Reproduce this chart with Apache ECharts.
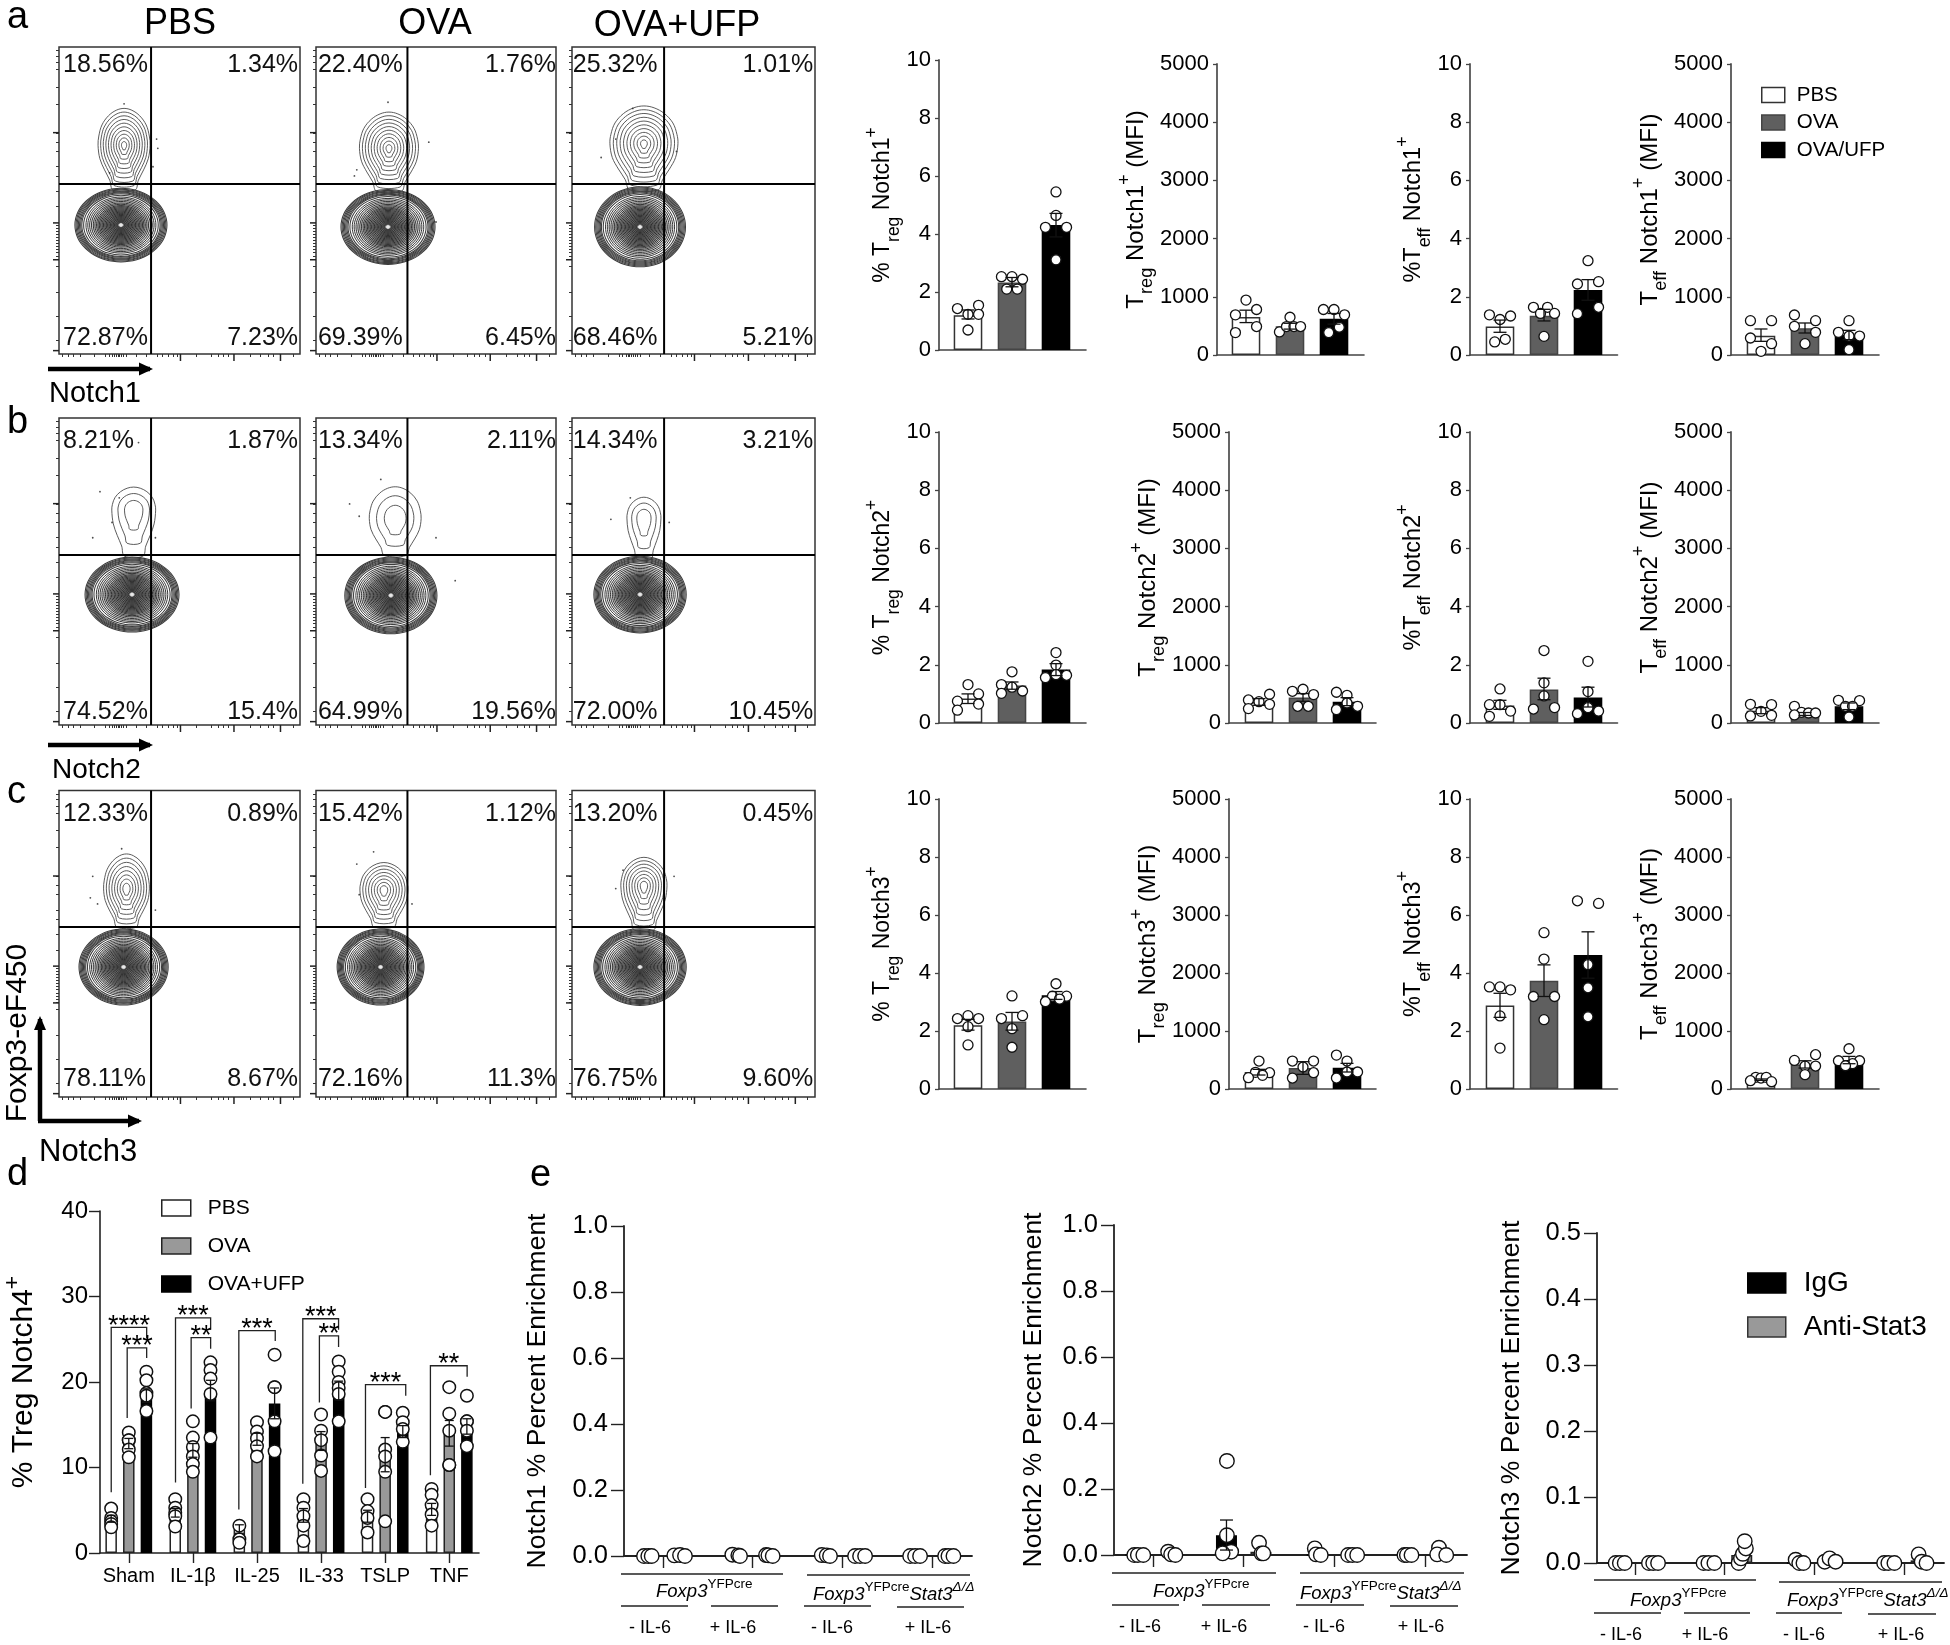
<!DOCTYPE html>
<html><head><meta charset="utf-8"><style>html,body{margin:0;background:#fff}#c{width:1950px;height:1645px}</style>
<script src="https://cdn.jsdelivr.net/npm/echarts@6/dist/echarts.min.js"></script></head>
<body><div id="c"></div>
<script>
const FONT='Liberation Sans';
/* ---------- a-c flow panels: quadrant percentages ---------- */
const pctNotch1=[['18.56%','1.34%','72.87%','7.23%'],['22.40%','1.76%','69.39%','6.45%'],['25.32%','1.01%','68.46%','5.21%']];
const pctNotch2=[['8.21%','1.87%','74.52%','15.4%'],['13.34%','2.11%','64.99%','19.56%'],['14.34%','3.21%','72.00%','10.45%']];
const pctNotch3=[['12.33%','0.89%','78.11%','8.67%'],['15.42%','1.12%','72.16%','11.3%'],['13.20%','0.45%','76.75%','9.60%']];
/* contour summaries, axis units 0-100 */
const upperNotch1=[[27,68,10.8,12,14.6],[30.4,67,12.3,11.8,14],[29.6,68.5,14,12.3,15]];
const lowerNotch1=[[25.7,42,19.1,12],[30,41.4,19.6,12.2],[28,41.4,18.7,13]];
const upperNotch2=[[31,70,9.1,7.5,15],[33,67.2,10.8,10.4,12],[29.6,67.4,7,6.8,13.4]];
const lowerNotch2=[[30.3,42.5,19.5,12.2],[31.2,42.2,19.2,12.5],[28,42.5,19,12.5]];
const upperNotch3=[[28,67.9,9.5,11.4,12.5],[28.3,67.5,10,9,12],[29.6,68.9,9.5,9.3,14.4]];
const lowerNotch3=[[26.8,42.4,18.5,12.4],[26.9,42.4,18.1,12.4],[28,42.4,19,12.5]];
const upperRings=[[1,.9,.8,.7,.6,.5,.4,.3,.2,.1],[1,.72,.42],[1,.88,.76,.64,.52,.4,.28,.16]];
const lowerRings=[1,.975,.95,.925,.9,.875,.85,.81,.76,.72,.68,.64,.6,.565,.53,.5,.47,.44,.41,.38,.35,.32,.29,.26,.23,.2,.17,.14,.11,.08,.04];
const flaskShape=[[0,1],[.3,.95],[.6,.8],[.85,.55],[.97,.25],[1,0],[.93,-.3],[.75,-.55],[.55,-.78],[.42,-1]];
const flowDots=[[[27,81.5],[40.5,70],[41,67],[39,61],[21,59]],[[30,82],[47,69],[17,60],[16,58],[50,43]],[[12,64],[18,70],[25,80],[43,66]],
 [[33,92],[17,76],[25,74],[14,61],[22,66],[40,61]],[[27,80],[14,72],[18,68],[50,61],[58,47]],[[24,74],[16,67],[40,66]],
 [[26,81],[14,72],[16,63],[13,65],[40,61]],[[24,80],[17,76],[18,66],[40,63]],[[18,68],[42,72],[21,74]]];
const flowXMinor=[.015,.037,.059,.089,.148,.193,.207,.222,.23,.237,.245,.252,.26,.267,.281,.319,.363,.407,.43,.452,.474,.489,.57,.63,.659,.681,.704,.793,.837,.867,.889,.97].map(v=>v*100);
const flowXMajor=[.504,.726,.919].map(v=>v*100);
const flowYMinor=[.988,.97,.95,.927,.87,.815,.72,.69,.66,.61,.58,.53,.48,.42,.41,.4,.39,.38,.37,.36,.35,.34,.33,.32,.31,.285,.2,.122,.046].map(v=>v*100);
const flowYMajor=[.721,.427,.307,.011].map(v=>v*100);
/* ---------- a-c bar panels ---------- */
const aTregPctBars=[1.2,2.33,4.31], aTregPctErr=[[1.07,1.38],[2.18,2.5],[3.9,4.71]];
const aTregPctPts=[[-.24,1.43],[.24,1.54],[0,1.23],[.24,1.23],[0,.69],[.76,2.53],[1,2.53],[1.24,2.44],[.88,2.1],[1.12,2.1],[2,5.45],[2,4.64],[1.76,4.23],[2.24,4.23],[2,3.11]];
const aTregMfiBars=[655,494,621], aTregMfiErr=[[557,770],[445,545],[530,713]];
const aTregMfiPts=[[0,943],[.24,782],[-.24,690],[.24,489],[-.24,385],[1,649],[.76,397],[.92,489],[1.09,489],[1.24,489],[1.76,782],[2,782],[2.24,690],[2.12,477],[1.88,385]];
const aTeffPctBars=[.98,1.35,2.23], aTeffPctErr=[[.78,1.2],[1.17,1.57],[1.88,2.59]];
const aTeffPctPts=[[-.24,1.38],[.24,1.34],[0,1.22],[.12,.54],[-.12,.45],[.76,1.64],[1.08,1.64],[.92,1.43],[1.24,1.43],[1,.64],[2,3.24],[1.76,2.44],[2.24,2.52],[2.24,1.64],[1.76,1.42]];
const aTeffMfiBars=[332,458,344], aTeffMfiErr=[[235,447],[378,550],[264,424]];
const aTeffMfiPts=[[-.24,590],[.24,590],[-.24,292],[.24,195],[0,63],[.76,687],[1.24,590],[.76,493],[1.24,389],[1,195],[2,590],[1.76,389],[2.24,326],[2,326],[2,92]];
const bTregPctBars=[.84,1.29,1.84], bTregPctErr=[[.67,1.0],[1.16,1.41],[1.63,2.04]];
const bTregPctPts=[[0,1.32],[.24,1.0],[-.24,.75],[.24,.65],[-.24,.44],[1,1.76],[.76,1.32],[1,1.23],[1.24,1.1],[.76,1.02],[2,2.42],[2,1.99],[2,1.66],[2.24,1.64],[1.76,1.56]];
const bTregMfiBars=[362,436,367], bTregMfiErr=[[304,419],[373,505],[298,436]];
const bTregMfiPts=[[.24,494],[-.24,396],[0,367],[.24,321],[-.24,247],[1,580],[.76,545],[1.24,488],[.88,287],[1.12,287],[1.76,528],[2,476],[2,344],[2.24,287],[1.76,230]];
const bTeffPctBars=[.6,1.15,.88], bTeffPctErr=[[.47,.78],[.8,1.54],[.55,1.23]];
const bTeffPctPts=[[0,1.17],[-.24,.63],[0,.63],[.24,.41],[-.24,.23],[1,2.49],[1,1.38],[1,.93],[1.24,.53],[.76,.48],[2,2.12],[2,1.08],[2,.53],[2.24,.41],[1.76,.32]];
const bTeffMfiBars=[212,155,287], bTeffMfiErr=[[160,264],[130,180],[230,344]];
const bTeffMfiPts=[[-.24,321],[.24,316],[0,201],[-.24,121],[.24,132],[.76,287],[.92,184],[1.08,172],[1.24,172],[.76,138],[1.76,390],[2.24,385],[1.92,287],[2.08,287],[2,103]];
const cTregPctBars=[2.2,2.33,3.23], cTregPctErr=[[2.03,2.4],[2.03,2.64],[3.09,3.36]];
const cTregPctPts=[[0,2.53],[-.24,2.43],[.24,2.43],[0,2.15],[0,1.52],[1,3.21],[1.24,2.53],[.76,2.43],[1,2.08],[1,1.44],[2,3.63],[1.92,3.2],[2.24,3.2],[2.08,3.1],[1.76,3.01]];
const cTregMfiBars=[293,362,367], cTregMfiErr=[[241,339],[253,471],[293,442]];
const cTregMfiPts=[[0,482],[-.08,287],[.24,281],[.08,235],[-.24,195],[.76,482],[1.24,482],[1,379],[1.24,281],[.76,189],[1.76,585],[2,482],[2,293],[2.24,293],[1.76,189]];
const cTeffPctBars=[2.88,3.73,4.62], cTeffPctErr=[[2.47,3.3],[3.19,4.28],[3.82,5.42]];
const cTeffPctPts=[[-.24,3.52],[0,3.52],[.24,3.42],[0,2.52],[0,1.41],[1,5.39],[1,4.48],[.76,3.19],[1.24,3.19],[1,2.39],[1.76,6.49],[2.24,6.4],[2,4.29],[2,3.49],[2,2.49]];
const cTeffMfiBars=[161,424,499], cTeffMfiErr=[[149,173],[361,487],[436,562]];
const cTeffMfiPts=[[-.12,201],[0,189],[.12,201],[-.24,143],[.24,126],[1.24,591],[.76,493],[1,396],[1.24,396],[1,247],[2,694],[1.76,487],[2.24,487],[2.08,436],[1.92,401]];
/* ---------- d ---------- */
const dCats=['Sham','IL-1β','IL-25','IL-33','TSLP','TNF'];
const dPbsBars=[4,4.7,2.8,4.4,4.3,5.1], dOvaBars=[12.8,12,13.3,13.1,11.5,14], dUfpBars=[18.4,19,17.5,19,14.2,14.8];
const dPbsErr=[.4,.5,.5,.8,.7,.7], dOvaErr=[.6,.8,.7,1.1,2,1.5], dUfpErr=[.8,1.2,1.8,1.1,.7,.9];
const dPbsPts=[[5.2,4.1,3.7,3.4,3.0],[6.3,5.3,4.7,4.3,3.1],[3.2,1.6,1.2],[6.3,5.3,4.3,3.2,1.4],[6.3,4.9,4.1,2.4],[7.5,6.8,5.6,4.5,3.2]];
const dOvaPts=[[14.1,13.2,13.2,12.1,11.2],[15.4,13.5,12.4,11.3,10.4,9.5],[15.3,14.2,13.4,12.5,11.3],[16.2,14.3,13.2,11.4,9.6],[16.5,16.5,12.1,11.3,9.5,3.7],[19.4,16.3,14.3,10.3,10.3]];
const dUfpPts=[[21.2,20.2,18.7,18.4,16.6],[22.3,21.4,20.4,18.6,13.5],[23.2,19.4,19.4,15.4,11.9],[22.4,21.2,20,19.3,18.6,15.4],[16.4,15.3,14.5,13],[18.4,15.4,15.4,14.3,12.5]];
/* brackets: x1, x2, left foot, right foot, top, stars */
const dBrackets=[[-.274,.279,7.1,25.1,26.4,'****'],[-.025,.279,15.8,22.8,24,'***'],[.729,1.277,8.25,26.1,27.5,'***'],[.973,1.277,16.9,23.9,25.2,'**'],
 [1.717,2.285,5.1,24.8,26,'***'],[2.715,3.273,8.1,26.1,27.4,'***'],[2.974,3.273,17.6,24.1,25.4,'**'],[3.693,4.321,7.6,18.4,19.7,'***'],[4.706,5.279,9.1,20.6,21.9,'**']];
/* ---------- e ---------- */
const e1IgG=[0,0,0,0], e1Stat=[0,0,0,0], e2IgG=[0,.06,0,0], e2Stat=[0,.01,0,0], e3IgG=[0,0,0,0], e3Stat=[0,.012,.004,.004];
const e1Pts=[[-.212,0],[-.164,0],[-.126,0],[.126,.002],[.19,.003],[.245,0],[.773,.004],[.84,.002],[.859,0],[1.149,.003],[1.175,.002],[1.223,0],[1.77,.003],[1.825,.002],[1.862,0],[2.141,0],[2.197,0],[2.253,0],[2.755,0],[2.81,0],[2.866,0],[3.145,0],[3.182,0],[3.238,0]];
const e2Pts=[[-.207,0],[-.167,0],[-.107,0],[.167,.01],[.2,.002],[.247,0],[.815,.285],[.815,.06],[.862,.01],[.768,.005],[1.169,.037],[1.196,.005],[1.216,.005],[1.784,.02],[1.797,.002],[1.85,0],[2.151,0],[2.198,0],[2.251,0],[2.772,0],[2.799,0],[2.85,0],[3.153,.022],[3.133,.002],[3.233,0]];
const e3Pts=[[-.216,0],[-.169,0],[-.115,0],[.155,0],[.203,0],[.257,0],[.764,0],[.818,0],[.885,0],[1.155,0],[1.182,.007],[1.203,.014],[1.236,.022],[1.223,.033],[1.791,.005],[1.831,0],[1.878,0],[2.115,.002],[2.169,.007],[2.236,.002],[2.777,0],[2.824,0],[2.892,0],[3.162,.013],[3.196,.002],[3.25,0]];
const eTickVals=[0,1,2,3];
const e2ErrBars=[[.81,.015,.106]];

/* ---------- builders ---------- */
const grid=[],xAxis=[],yAxis=[],series=[],gfx=[];
function addGrid(l,r,t,b,x,y){grid.push({left:l,top:t,width:r-l,height:b-t,show:false,containLabel:false,...(x.g||{})});const i=grid.length-1;
 xAxis.push({gridIndex:i,type:'value',...x});yAxis.push({gridIndex:i,type:'value',...y});delete xAxis[i].g;return i;}
const LINE=(c,w)=>({lineStyle:{color:c,width:w}});
function barSeries(i,name,data,w,color,border){series.push({type:'bar',name,xAxisIndex:i,yAxisIndex:i,data,barWidth:w,barGap:'-100%',
 itemStyle:{color,borderColor:border,borderWidth:1.5},silent:true,animation:false});}
function errSeries(i,data,cap,lw){series.push({type:'custom',coordinateSystem:'cartesian2d',xAxisIndex:i,yAxisIndex:i,data,silent:true,encode:{x:0,y:[1,2]},z:4,
 renderItem(p,api){const x=api.value(0),a=api.coord([x,api.value(1)]),b=api.coord([x,api.value(2)]);
  const st={stroke:'#111',lineWidth:lw};return {type:'group',children:[
   {type:'line',shape:{x1:a[0],y1:a[1],x2:b[0],y2:b[1]},style:st},
   {type:'line',shape:{x1:a[0]-cap,y1:a[1],x2:a[0]+cap,y2:a[1]},style:st},
   {type:'line',shape:{x1:b[0]-cap,y1:b[1],x2:b[0]+cap,y2:b[1]},style:st}]};}});}
function ptSeries(i,data,size,lw){series.push({type:'scatter',xAxisIndex:i,yAxisIndex:i,data,symbolSize:size,silent:true,z:3,
 itemStyle:{color:'#fff',borderColor:'#111',borderWidth:lw,opacity:1}});}

const RICH=(fs)=>({m:{fontFamily:FONT,fontSize:fs,color:'#000',verticalAlign:'middle',padding:[8,0,8,0]},
 sub:{fontFamily:FONT,fontSize:fs*.76,color:'#000',verticalAlign:'bottom'},
 sup:{fontFamily:FONT,fontSize:fs*.76,color:'#000',verticalAlign:'top'}});

function barPanel(g,bars,err,pts,max,iv,name,gap,fs){
 const i=addGrid(g.axis,g.end,g.top,g.bottom,
  {min:(g.axis-g.c0)/g.step,max:(g.end-g.c0)/g.step,axisLine:{show:true,onZero:false,...LINE('#444',1.6)},axisTick:{show:false},axisLabel:{show:false},splitLine:{show:false}},
  {min:0,max,interval:iv,axisLine:{show:true,onZero:false,...LINE('#555',1.8)},axisTick:{show:true,length:4,...LINE('#444',1.3)},
   axisLabel:{fontFamily:FONT,fontSize:22,color:'#000',margin:8,formatter:v=>String(v)},splitLine:{show:false},
   name,nameLocation:'middle',nameGap:gap,nameTextStyle:{rich:RICH(fs)}});
 barSeries(i,'PBS',[[0,bars[0]]],28.6,'#fff','#333');
 barSeries(i,'OVA',[[1,bars[1]]],28.6,'#5f5f5f','#444');
 barSeries(i,'OVA/UFP',[[2,bars[2]]],28.6,'#000','#000');
 ptSeries(i,pts,10,1.3);
 errSeries(i,err.map((e,k)=>[k,e[0],e[1]]),6.5,1.3);
}
const P1x={axis:939,end:1086,c0:968,step:44},P2a={axis:1217,end:1364,c0:1246,step:44},P2x={axis:1229,end:1376,c0:1259,step:44},
 P3x={axis:1470,end:1617.5,c0:1500,step:44},P4x={axis:1731,end:1879,c0:1761,step:44};
const rowA={top:64,bottom:355},rowB={top:432,bottom:723},rowC={top:799,bottom:1089};
const nm=(pre,sub,n,post)=>`{m|${pre}}{sub|${sub}}{m|${n}}{sup|+}`+(post?`{m|${post}}`:'');
barPanel({...P1x,top:60,bottom:350},aTregPctBars,aTregPctErr,aTregPctPts,10,2,nm('% T','reg',' Notch1'),36,23);
barPanel({...P2a,...rowA},aTregMfiBars,aTregMfiErr,aTregMfiPts,5000,1000,nm('T','reg',' Notch1',' (MFI)'),57,24);
barPanel({...P3x,...rowA},aTeffPctBars,aTeffPctErr,aTeffPctPts,10,2,nm('%T','eff',' Notch1'),31,23.5);
barPanel({...P4x,...rowA},aTeffMfiBars,aTeffMfiErr,aTeffMfiPts,5000,1000,nm('T','eff',' Notch1',' (MFI)'),60,24);
barPanel({...P1x,...rowB},bTregPctBars,bTregPctErr,bTregPctPts,10,2,nm('% T','reg',' Notch2'),36,23);
barPanel({...P2x,...rowB},bTregMfiBars,bTregMfiErr,bTregMfiPts,5000,1000,nm('T','reg',' Notch2',' (MFI)'),57,24);
barPanel({...P3x,...rowB},bTeffPctBars,bTeffPctErr,bTeffPctPts,10,2,nm('%T','eff',' Notch2'),31,23.5);
barPanel({...P4x,...rowB},bTeffMfiBars,bTeffMfiErr,bTeffMfiPts,5000,1000,nm('T','eff',' Notch2',' (MFI)'),60,24);
barPanel({...P1x,...rowC},cTregPctBars,cTregPctErr,cTregPctPts,10,2,nm('% T','reg',' Notch3'),36,23);
barPanel({...P2x,...rowC},cTregMfiBars,cTregMfiErr,cTregMfiPts,5000,1000,nm('T','reg',' Notch3',' (MFI)'),57,24);
barPanel({...P3x,...rowC},cTeffPctBars,cTeffPctErr,cTeffPctPts,10,2,nm('%T','eff',' Notch3'),31,23.5);
barPanel({...P4x,...rowC},cTeffMfiBars,cTeffMfiErr,cTeffMfiPts,5000,1000,nm('T','eff',' Notch3',' (MFI)'),60,24);

/* flow panels */
const flowCols=[[59,300,38.2,1.7,99.2],[316,556,38.1,.8,100],[572,815,37.9,.3,99.3]];
const flowRows=[[47,354,55.4,94.1,5.2],[418,725,55.4,92.5,4.2],[790.5,1097,55.5,92.3,5.9]];
function flowPanel(r,c,pct,up,lo,dots){
 const C=flowCols[c],R=flowRows[r];
 const i=addGrid(C[0],C[1],R[0],R[1],
  {min:0,max:100,g:{show:true,borderColor:'#333',borderWidth:1.5,backgroundColor:'transparent'},axisLine:{show:false,onZero:false},axisTick:{show:true,customValues:flowXMinor,length:3,...LINE('#333',1)},axisLabel:{show:false},splitLine:{show:false}},
  {min:0,max:100,axisLine:{show:false,onZero:false},axisTick:{show:true,customValues:flowYMinor,length:3,...LINE('#333',1)},axisLabel:{show:false},splitLine:{show:false}});
 const rings=[];
 upperRings[r].forEach(s=>{const pts=[];const w=(d)=>[up[0]+d[0]*up[2]*s,up[1]+(d[1]>0?d[1]*up[3]:d[1]*up[4])*s];
  flaskShape.forEach(d=>pts.push(w(d)));[...flaskShape].reverse().slice(0,-1).forEach(d=>pts.push(w([-d[0],d[1]])));
  rings.push({pts,stroke:'#4a4a4a',lw:.9,cx:up[0],cy:up[1],fill:'none'});});
 lowerRings.forEach(s=>{const pts=[];for(let k=0;k<36;k++){const a=k/36*2*Math.PI;pts.push([lo[0]+Math.cos(a)*lo[2]*s,lo[1]+Math.sin(a)*lo[3]*s]);}
  rings.push({pts,stroke:s<.05?'#e8e8e8':(s>.8?'#3c3c3c':'#2a2a2a'),lw:s>.8?1.05:.95,cx:lo[0],cy:lo[1],fill:s<.05?'#e8e8e8':(s<.74?'rgba(20,20,20,.05)':'none')});});
 series.push({type:'custom',coordinateSystem:'cartesian2d',xAxisIndex:i,yAxisIndex:i,silent:true,data:rings.map(q=>[q.cx,q.cy]),encode:{x:0,y:1},
  renderItem(p,api){const q=rings[p.dataIndex];return {type:'polygon',shape:{points:q.pts.map(v=>api.coord(v)),smooth:.35},style:{fill:q.fill,stroke:q.stroke,lineWidth:q.lw}};}});
 series.push({type:'scatter',xAxisIndex:i,yAxisIndex:i,data:dots,symbolSize:1.8,silent:true,itemStyle:{color:'#222'}});
 /* gate lines */
 series.push({type:'custom',coordinateSystem:'cartesian2d',xAxisIndex:i,yAxisIndex:i,silent:true,data:[[C[2],R[2]]],encode:{x:0,y:1},z:5,
  renderItem(p,api){const a=api.coord([api.value(0),0]),b=api.coord([api.value(0),100]),l=api.coord([0,api.value(1)]),q=api.coord([100,api.value(1)]);
   const st={stroke:'#000',lineWidth:2};return {type:'group',children:[{type:'line',shape:{x1:a[0],y1:a[1],x2:b[0],y2:b[1]},style:st},{type:'line',shape:{x1:l[0],y1:l[1],x2:q[0],y2:q[1]},style:st}]};}});
 /* major ticks */
 series.push({type:'custom',coordinateSystem:'cartesian2d',xAxisIndex:i,yAxisIndex:i,silent:true,clip:false,data:[[0,0]],encode:{x:0,y:1},
  renderItem(p,api){const ch=[],st={stroke:'#222',lineWidth:1.5};
   flowXMajor.forEach(v=>{const a=api.coord([v,0]);ch.push({type:'line',shape:{x1:a[0],y1:a[1],x2:a[0],y2:a[1]+7},style:st});});
   flowYMajor.forEach(v=>{const a=api.coord([0,v]);ch.push({type:'line',shape:{x1:a[0]-6,y1:a[1],x2:a[0],y2:a[1]},style:st});});
   return {type:'group',children:ch};}});
 /* percent labels */
 const L=[[C[3],R[3],'left',pct[0]],[C[4],R[3],'right',pct[1]],[C[3],R[4],'left',pct[2]],[C[4],R[4],'right',pct[3]]];
 series.push({type:'custom',coordinateSystem:'cartesian2d',xAxisIndex:i,yAxisIndex:i,silent:true,z:6,data:L.map(v=>[v[0],v[1]]),encode:{x:0,y:1},
  renderItem(p,api){const v=L[p.dataIndex],a=api.coord([v[0],v[1]]);return {type:'text',x:a[0],y:a[1],style:{text:v[3],fontFamily:FONT,fontSize:25,fill:'#111',align:v[2],verticalAlign:'middle'}};}});
}
[[pctNotch1,upperNotch1,lowerNotch1],[pctNotch2,upperNotch2,lowerNotch2],[pctNotch3,upperNotch3,lowerNotch3]].forEach((row,r)=>{
 [0,1,2].forEach(c=>flowPanel(r,c,row[0][c],row[1][c],row[2][c],flowDots[r*3+c]));});

/* panel d */
const dOffsets=[-.275,0,.275];
(function(){
 const c0=114,step=66.8,l=84,rr=479;
 const i=addGrid(l,rr,1211,1553,
  {min:(l-c0)/step,max:(rr-c0)/step,axisLine:{show:true,onZero:false,...LINE('#222',1.6)},axisTick:{show:true,customValues:[0,1,2,3,4,5],length:10,...LINE('#222',1.4)},
   axisLabel:{show:true,customValues:[0,1,2,3,4,5],formatter:v=>dCats[Math.round(v)],fontFamily:FONT,fontSize:20,color:'#000',margin:13},splitLine:{show:false}},
  {min:0,max:40,interval:10,axisLine:{show:true,onZero:false,...LINE('#222',1.6)},axisTick:{show:true,length:11,...LINE('#222',1.4)},
   axisLabel:{fontFamily:FONT,fontSize:24,color:'#000',margin:12},splitLine:{show:false},
   name:'{m|% Treg Notch4}{sup|+}',nameLocation:'middle',nameGap:53,nameTextStyle:{rich:RICH(30)}});
 const sets=[['PBS',dPbsBars,dPbsErr,dPbsPts,'#fff','#222'],['OVA',dOvaBars,dOvaErr,dOvaPts,'#999','#222'],['OVA+UFP',dUfpBars,dUfpErr,dUfpPts,'#000','#000']];
 sets.forEach((s,k)=>barSeries(i,s[0],s[1].map((v,g)=>[g+dOffsets[k],v]),11.5,s[4],s[5]));
 sets.forEach((s,k)=>{const pts=[];s[3].forEach((arr,g)=>arr.forEach(v=>pts.push([g+dOffsets[k],v])));ptSeries(i,pts,12.5,1.5);});
 sets.forEach((s,k)=>errSeries(i,s[1].map((v,g)=>[g+dOffsets[k],v-s[2][g],v+s[2][g]]),4.5,1.3));
 series.push({type:'custom',coordinateSystem:'cartesian2d',xAxisIndex:i,yAxisIndex:i,silent:true,z:5,data:dBrackets.map(b=>[b[0],b[4]]),encode:{x:0,y:1},
  renderItem(p,api){const b=dBrackets[p.dataIndex],A=api.coord([b[0],b[2]]),B=api.coord([b[0],b[4]]),C=api.coord([b[1],b[4]]),D=api.coord([b[1],b[3]]);
   return {type:'group',children:[{type:'polyline',shape:{points:[A,B,C,D]},style:{fill:'none',stroke:'#222',lineWidth:1.3}},
    {type:'text',x:(B[0]+C[0])/2,y:B[1]-1,style:{text:b[5],fontFamily:FONT,fontSize:27,fill:'#000',align:'center',verticalAlign:'middle'}}]};}});
})();

/* panel e */
function ePanel(g,igg,stat,pts,max,iv,name,errs){
 const i=addGrid(g.axis,g.end,g.top,g.bottom,
  {min:(g.axis-g.c0)/g.step,max:(g.end-g.c0)/g.step,axisLine:{show:true,onZero:false,...LINE('#222',1.8)},axisTick:{show:true,customValues:eTickVals,length:12,...LINE('#222',1.4)},axisLabel:{show:false},splitLine:{show:false}},
  {min:0,max,interval:iv,axisLine:{show:true,onZero:false,...LINE('#222',1.8)},axisTick:{show:true,length:13,...LINE('#222',1.4)},
   axisLabel:{fontFamily:FONT,fontSize:25.5,color:'#000',margin:16,formatter:v=>v.toFixed(1)},splitLine:{show:false},
   name:`{m|${name}}`,nameLocation:'middle',nameGap:g.gap,nameTextStyle:{rich:{m:{fontFamily:FONT,fontSize:26.5,color:'#000'}}}});
 barSeries(i,'IgG',igg.map((v,k)=>[k-.19,v]),21,'#000','#000');
 barSeries(i,'Anti-Stat3',stat.map((v,k)=>[k+.19,v]),21,'#999','#222');
 ptSeries(i,pts,14.5,1.4);
 if(errs)errSeries(i,errs,6.5,1.3);
}
ePanel({axis:624,end:972,c0:663,step:89.7,top:1226,bottom:1556,gap:73},e1IgG,e1Stat,e1Pts,1,.2,'Notch1 % Percent Enrichment');
ePanel({axis:1114,end:1467,c0:1153,step:90.7,top:1225,bottom:1555,gap:67},e2IgG,e2Stat,e2Pts,1,.2,'Notch2 % Percent Enrichment',e2ErrBars);
ePanel({axis:1597,end:1944,c0:1635,step:89.7,top:1233,bottom:1563,gap:72},e3IgG,e3Stat,e3Pts,.5,.1,'Notch3 % Percent Enrichment');

/* ---------- annotations ---------- */
const T=(x,y,text,fs,o={})=>gfx.push({type:'text',x,y,rotation:o.rot||0,silent:true,style:{text,fontFamily:FONT,fontSize:fs,fill:'#000',align:o.align||'left',verticalAlign:'middle',rich:o.rich}});
const Ln=(x1,y1,x2,y2,w=1.6,c='#222')=>gfx.push({type:'line',silent:true,shape:{x1,y1,x2,y2},style:{stroke:c,lineWidth:w}});
const Arrow=(x1,y1,x2,y2)=>{Ln(x1,y1,x2,y2,4.5,'#000');const h=x1==x2;const d=h?(y2<y1?-1:1):(x2<x1?-1:1);
 const pts=h?[[x2,y2+d*3],[x2-6,y2-d*11],[x2+6,y2-d*11]]:[[x2+d*3,y2],[x2-d*11,y2-6.5],[x2-d*11,y2+6.5]];
 gfx.push({type:'polygon',silent:true,shape:{points:pts},style:{fill:'#000'}});};
T(7,18,'a',38);T(7,423,'b',38);T(7,793,'c',38);T(7,1175,'d',38);T(530,1176,'e',38);
T(180,24,'PBS',36,{align:'center'});T(435,24,'OVA',36,{align:'center'});T(677,26,'OVA+UFP',36,{align:'center'});
Arrow(48,369,150,369);Arrow(48,745,150,745);Arrow(38,1121,139,1121);Arrow(40,1121,40,1019);
T(49,394,'Notch1',29);T(52,770,'Notch2',28);T(39,1152,'Notch3',31);
T(18,1033,'Foxp3-eF450',30,{align:'center',rot:Math.PI/2});
const fRich={i:{fontFamily:FONT,fontStyle:'italic',fontSize:18.5,fill:'#000',verticalAlign:'bottom',padding:[5,0,0,0]},
 s:{fontFamily:FONT,fontSize:13.5,fill:'#000',verticalAlign:'top'},si:{fontFamily:FONT,fontStyle:'italic',fontSize:13.5,fill:'#000',verticalAlign:'top'}};
const F1='{i|Foxp3}{s|YFPcre}',F2='{i|Foxp3}{s|YFPcre}{i|Stat3}{si|Δ/Δ}';
const eLab=[
 {f:[[656,1589],[813,1592]],main:[[621,783,1574],[807,970,1575]],sub:[[621,688,1606],[711,778,1606],[804,871,1606],[897,964,1607]],il:[650,733,832,928],ily:1628},
 {f:[[1153,1589],[1300,1591]],main:[[1112,1276,1573],[1300,1464,1573]],sub:[[1112,1179,1605],[1202,1270,1605],[1296,1364,1605],[1390,1458,1606]],il:[1140,1224,1324,1421],ily:1627},
 {f:[[1630,1598],[1787,1598]],main:[[1594,1756,1580],[1779,1942,1582]],sub:[[1594,1661,1613],[1684,1750,1613],[1776,1842,1613],[1868,1936,1614]],il:[1621,1705,1804,1901],ily:1635}];
const ilTxt=['- IL-6','+ IL-6','- IL-6','+ IL-6'];
eLab.forEach(o=>{T(o.f[0][0],o.f[0][1],F1,18.5,{rich:fRich});T(o.f[1][0],o.f[1][1],F2,18.5,{rich:fRich});
 o.main.forEach(m=>Ln(m[0],m[2],m[1],m[2]));o.sub.forEach(m=>Ln(m[0],m[2],m[1],m[2]));
 o.il.forEach((x,k)=>T(x,o.ily,ilTxt[k],18,{align:'center'}));});

const lg=(left,top,names,styles,iw,ih,gap,tg,fs)=>({left,top,orient:'vertical',selectedMode:false,icon:'rect',itemWidth:iw,itemHeight:ih,itemGap:gap,padding:0,
 textStyle:{fontFamily:FONT,fontSize:fs,color:'#000',padding:[0,0,0,tg-5]},data:names.map((n,k)=>({name:n,icon:'rect',itemStyle:styles[k]}))});
const sty=(c,b)=>({color:c,borderColor:b,borderWidth:1.5,opacity:1});
const legend=[
 lg(1761,84.5,['PBS','OVA','OVA/UFP'],[sty('#fff','#333'),sty('#5f5f5f','#444'),sty('#000','#000')],23,15,6.5,12,20.5),
 lg(161,1197.5,['PBS','OVA','OVA+UFP'],[sty('#fff','#222'),sty('#999','#222'),sty('#000','#000')],29,16,17,17,21),
 lg(1747,1269,['IgG','Anti-Stat3'],[sty('#000','#000'),sty('#999','#333')],38,20,16,18,28)];

const chart=echarts.init(document.getElementById('c'),null,{renderer:'canvas'});
chart.setOption({animation:false,backgroundColor:'#fff',grid,xAxis,yAxis,series,legend,graphic:{elements:gfx},tooltip:{show:false}});
</script></body></html>
